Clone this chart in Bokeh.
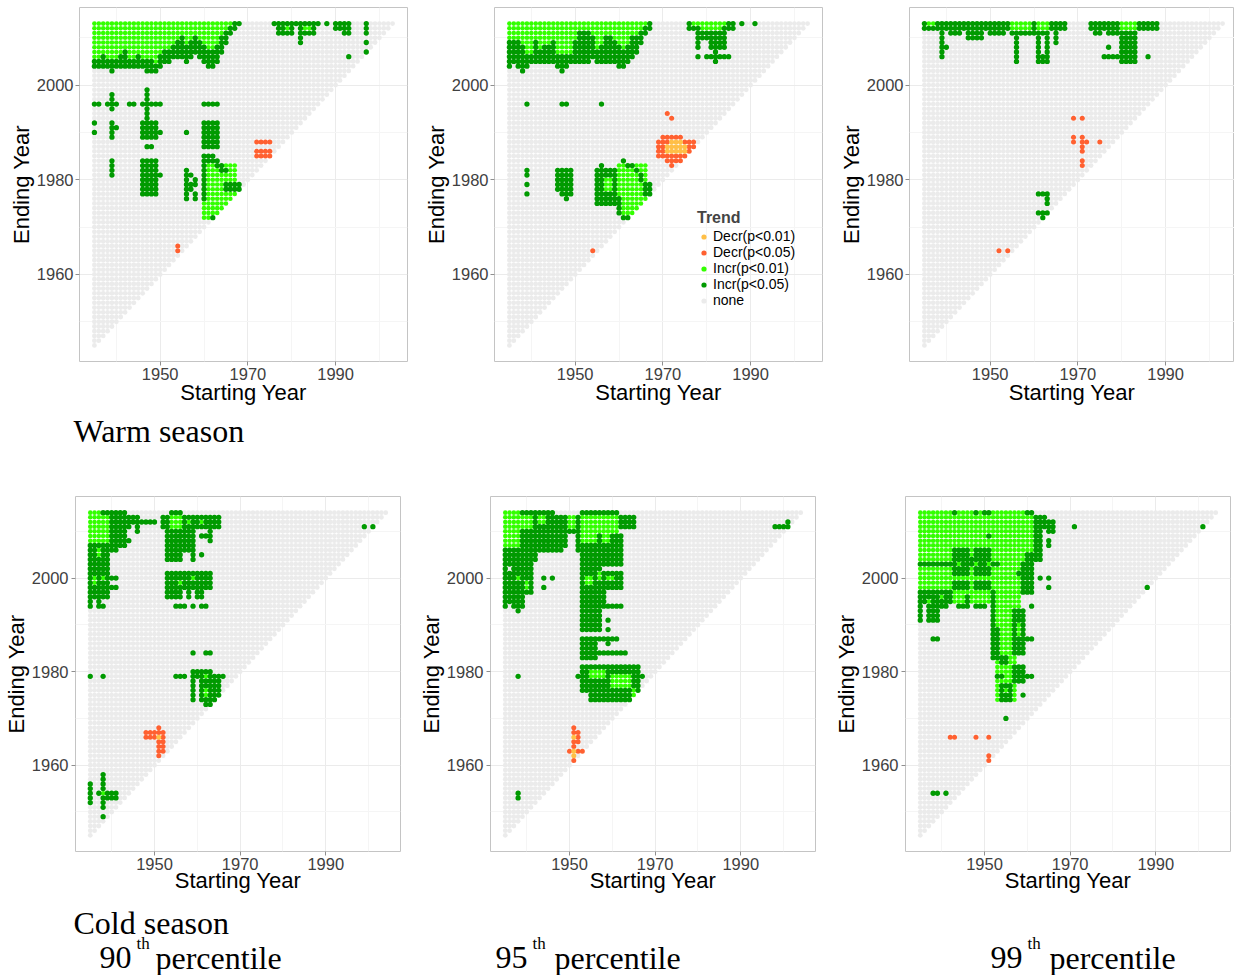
from bokeh.plotting import figure
from bokeh.models import ColumnDataSource, FixedTicker, Label, Legend, LegendItem, Range1d, Grid
from bokeh.layouts import column, row
from bokeh.embed import file_html
from bokeh.resources import INLINE

# ---------------------------------------------------------------- data
TREND_LABELS = ["Decr(p<0.01)", "Decr(p<0.05)", "Incr(p<0.01)", "Incr(p<0.05)", "none"]
TREND_CODES = ["D1", "D5", "I1", "I5", "N"]
TREND_COLORS = ["#FFBF47", "#FF6030", "#33FF00", "#009A00", "#EBEBEB"]

MIN_SPAN = 10                     # shortest trend window (years)
WARM_FIRST_START, WARM_LAST_START, WARM_LAST_END = 1935, 2003, 2013
COLD_FIRST_START, COLD_LAST_START, COLD_LAST_END = 1935, 2004, 2014

X_TICKS = [1950, 1970, 1990]
X_MINOR = [1940, 1960, 1980, 2000]
Y_TICKS = [1960, 1980, 2000]
Y_MINOR = [1950, 1970, 1990, 2010]

SEASON_TITLES = ["Warm season", "Cold season"]
PERCENTILES = ["90", "95", "99"]

# column profiles of the top significant block: (start, lowest Incr(p<0.05) end, lowest Incr(p<0.01) end)
W90_PROFILE = [
    (1935, 2004, 2006), (1936, 2004, 2006), (1937, 2004, 2007), (1938, 2004, 2006), (1939, 2003, 2006),
    (1940, 2004, 2006), (1941, 2004, 2007), (1942, 2004, 2008), (1943, 2004, 2006), (1944, 2004, 2006),
    (1945, 2004, 2007), (1946, 2004, 2006), (1947, 2003, 2006), (1948, 2003, 2006), (1949, 2003, 2005),
    (1950, 2004, 2007), (1951, 2005, 2008), (1952, 2005, 2008), (1953, 2006, 2009), (1954, 2006, 2010),
    (1955, 2006, 2011), (1956, 2005, 2009), (1957, 2006, 2010), (1958, 2007, 2011), (1959, 2006, 2010),
    (1960, 2005, 2009), (1961, 2004, 2008), (1962, 2004, 2008), (1963, 2005, 2009), (1964, 2007, 2011),
    (1965, 2009, 2012), (1966, 2011, 2013), (1967, 2012, None), (1968, 2013, None),
]
# blocks: (trend, first start, last start, first end, last end)
W90_RECTS = [
    ("I5", 1976, 1986, 2013, 2013), ("I5", 1977, 1980, 2011, 2012), ("I5", 1982, 1985, 2011, 2012),
    ("I5", 1982, 1982, 2009, 2010), ("I1", 1979, 1979, 2012, 2012), ("I1", 1983, 1984, 2012, 2012),
    ("I5", 1988, 1988, 2013, 2013), ("I5", 1990, 1993, 2012, 2013), ("I5", 1992, 1993, 2011, 2011),
    ("I5", 1993, 1993, 2006, 2006), ("I5", 1997, 1997, 2011, 2013), ("I5", 1997, 1997, 2009, 2009),
    ("I5", 1997, 1997, 2007, 2007),
    ("I5", 1935, 1936, 1996, 1996), ("I5", 1938, 1940, 1996, 1996), ("I5", 1939, 1939, 1995, 1998),
    ("I5", 1943, 1944, 1996, 1996), ("I5", 1946, 1950, 1996, 1996), ("I5", 1947, 1947, 1993, 1999),
    ("I5", 1946, 1949, 1989, 1992), ("I5", 1950, 1950, 1990, 1990), ("I5", 1947, 1948, 1987, 1987),
    ("I5", 1946, 1949, 1977, 1984), ("I5", 1950, 1950, 1981, 1981),
    ("I5", 1939, 1939, 1989, 1992), ("I5", 1940, 1940, 1991, 1991),
    ("I5", 1935, 1935, 1992, 1992), ("I5", 1935, 1935, 1990, 1990), ("I5", 1939, 1939, 1981, 1984),
    ("I5", 1956, 1956, 1990, 1990),
    ("I5", 1960, 1963, 1996, 1996), ("I5", 1960, 1963, 1988, 1992), ("I5", 1960, 1963, 1987, 1987),
    ("I1", 1960, 1967, 1972, 1983), ("I5", 1960, 1960, 1976, 1985), ("I5", 1961, 1962, 1985, 1985),
    ("I5", 1961, 1963, 1984, 1984), ("I5", 1963, 1964, 1983, 1983), ("I5", 1964, 1965, 1982, 1982),
    ("I5", 1965, 1968, 1978, 1979), ("I5", 1962, 1962, 1972, 1972),
    ("I5", 1956, 1956, 1976, 1982), ("I5", 1957, 1957, 1981, 1981), ("I5", 1957, 1957, 1978, 1979),
    ("I5", 1958, 1958, 1976, 1977), ("I5", 1958, 1958, 1979, 1980),
    ("D5", 1972, 1975, 1988, 1988), ("D5", 1972, 1975, 1985, 1986), ("D5", 1954, 1954, 1965, 1966),
]

W95_PROFILE = [
    (1935, 2004, 2010), (1936, 2005, 2010), (1937, 2004, 2010), (1938, 2003, 2009), (1939, 2004, 2007),
    (1940, 2005, 2007), (1941, 2005, 2010), (1942, 2005, 2008), (1943, 2005, 2009), (1944, 2005, 2009),
    (1945, 2005, 2010), (1946, 2004, 2007), (1947, 2003, 2007), (1948, 2004, 2007), (1949, 2005, 2007),
    (1950, 2005, 2010), (1951, 2005, 2012), (1952, 2005, 2012), (1953, 2005, 2012), (1954, 2006, 2011),
    (1955, 2005, 2008), (1956, 2005, 2009), (1957, 2005, 2011), (1958, 2005, 2011), (1959, 2005, 2010),
    (1960, 2004, 2009), (1961, 2004, 2008), (1962, 2005, 2009), (1963, 2006, 2011), (1964, 2007, 2011),
    (1965, 2009, 2012), (1966, 2011, 2013), (1967, 2012, None),
]
W95_RECTS = [
    ("I5", 1976, 1986, 2012, 2013), ("I1", 1977, 1984, 2013, 2013), ("I1", 1979, 1983, 2012, 2012),
    ("I5", 1978, 1978, 2008, 2011), ("I5", 1979, 1980, 2010, 2011), ("I5", 1981, 1984, 2008, 2011),
    ("I5", 1982, 1982, 2005, 2007), ("I5", 1978, 1978, 2006, 2006), ("I5", 1980, 1985, 2006, 2006),
    ("I5", 1988, 1988, 2013, 2013), ("I5", 1991, 1991, 2013, 2013),
    ("I5", 1939, 1939, 1996, 1996), ("I5", 1947, 1948, 1996, 1996), ("I5", 1956, 1956, 1996, 1996),
    ("I5", 1939, 1939, 1981, 1982), ("I5", 1939, 1939, 1979, 1979), ("I5", 1939, 1939, 1977, 1977),
    ("I5", 1946, 1949, 1981, 1982), ("I5", 1946, 1949, 1978, 1980), ("I5", 1947, 1949, 1977, 1977),
    ("I5", 1948, 1948, 1976, 1976),
    ("I5", 1955, 1959, 1975, 1982), ("I5", 1956, 1956, 1983, 1983), ("I1", 1957, 1958, 1978, 1980),
    ("I1", 1960, 1966, 1973, 1983), ("I5", 1961, 1961, 1984, 1984), ("I5", 1962, 1963, 1983, 1983),
    ("I5", 1964, 1964, 1982, 1982), ("I5", 1965, 1965, 1980, 1981), ("I5", 1966, 1967, 1977, 1979),
    ("I5", 1960, 1960, 1973, 1976), ("I5", 1961, 1962, 1972, 1972),
    ("D5", 1969, 1977, 1985, 1988), ("D5", 1970, 1974, 1989, 1989), ("D5", 1971, 1974, 1984, 1984),
    ("D5", 1972, 1972, 1983, 1983), ("D5", 1971, 1971, 1994, 1994), ("D5", 1972, 1972, 1993, 1993),
    ("D1", 1971, 1975, 1986, 1987), ("D1", 1972, 1974, 1988, 1988), ("D5", 1954, 1954, 1965, 1965),
]

W99_PROFILE = []
W99_RECTS = [
    ("I5", 1935, 1938, 2012, 2013), ("I1", 1936, 1937, 2013, 2013),
    ("I5", 1939, 1939, 2006, 2013), ("I5", 1940, 1940, 2008, 2008),
    ("I5", 1940, 1954, 2012, 2013), ("I5", 1941, 1943, 2011, 2011), ("I5", 1945, 1948, 2010, 2011),
    ("I5", 1950, 1953, 2011, 2011),
    ("I5", 1955, 1960, 2011, 2013), ("I1", 1955, 1959, 2012, 2013), ("I5", 1956, 1956, 2005, 2010),
    ("I5", 1961, 1963, 2005, 2013), ("N", 1962, 1962, 2007, 2010), ("I1", 1961, 1964, 2012, 2013),
    ("I5", 1964, 1967, 2012, 2013), ("I5", 1965, 1965, 2009, 2011),
    ("I5", 1973, 1988, 2012, 2013), ("I1", 1980, 1983, 2012, 2013), ("I5", 1974, 1975, 2011, 2011),
    ("I5", 1977, 1979, 2011, 2011), ("I5", 1977, 1977, 2008, 2008), ("I5", 1976, 1979, 2006, 2006),
    ("I5", 1980, 1983, 2005, 2011), ("I5", 1986, 1986, 2006, 2006),
    ("D5", 1969, 1969, 1993, 1993), ("D5", 1971, 1971, 1993, 1993), ("D5", 1969, 1969, 1988, 1989),
    ("D5", 1971, 1971, 1986, 1989), ("D5", 1971, 1971, 1983, 1984), ("D5", 1972, 1972, 1988, 1988),
    ("D5", 1975, 1975, 1988, 1988), ("D5", 1952, 1952, 1965, 1965), ("D5", 1954, 1954, 1965, 1965),
    ("I5", 1961, 1963, 1977, 1977), ("I5", 1963, 1963, 1975, 1976), ("I5", 1961, 1963, 1973, 1973),
    ("I5", 1962, 1962, 1972, 1972),
]

C90_PROFILE = []
C90_RECTS = [
    ("I1", 1935, 1939, 2008, 2014), ("I5", 1940, 1941, 2006, 2014), ("I5", 1938, 1941, 2014, 2014),
    ("I5", 1935, 1937, 1994, 2007), ("I5", 1938, 1939, 1996, 2007), ("I5", 1940, 1941, 1998, 1998),
    ("I5", 1940, 1941, 2000, 2000), ("I1", 1936, 1936, 1999, 2000), ("I1", 1938, 1938, 2000, 2000),
    ("I1", 1937, 1937, 2005, 2006), ("N", 1936, 1936, 1994, 1995), ("I5", 1937, 1938, 1994, 1994),
    ("I5", 1942, 1946, 2013, 2013), ("I5", 1942, 1950, 2012, 2012), ("I5", 1942, 1943, 2007, 2014),
    ("I5", 1943, 1944, 2011, 2011), ("I5", 1946, 1946, 2010, 2011), ("I5", 1944, 1944, 2008, 2008),
    ("I5", 1954, 1956, 2014, 2014), ("I5", 1952, 1965, 2011, 2013), ("I1", 1954, 1956, 2010, 2013),
    ("I1", 1958, 1958, 2012, 2012), ("I1", 1961, 1961, 2012, 2012),
    ("I5", 1953, 1956, 2004, 2010), ("I5", 1957, 1958, 2006, 2010), ("I5", 1959, 1959, 2004, 2010),
    ("I5", 1961, 1962, 2009, 2009), ("I5", 1961, 1961, 2005, 2005), ("I5", 1963, 1963, 2008, 2010),
    ("I5", 1953, 1963, 1998, 2001), ("I5", 1953, 1956, 1996, 1997), ("I5", 1958, 1958, 1996, 1997),
    ("I5", 1960, 1961, 1996, 1997), ("I1", 1956, 1956, 1999, 1999), ("I1", 1959, 1959, 2000, 2000),
    ("I5", 1955, 1957, 1994, 1994), ("I5", 1959, 1959, 1994, 1994), ("I5", 1961, 1962, 1994, 1994),
    ("I5", 1959, 1959, 1984, 1984), ("I5", 1962, 1963, 1984, 1984),
    ("I5", 1955, 1957, 1979, 1979), ("I5", 1959, 1966, 1979, 1979), ("I5", 1959, 1959, 1974, 1980),
    ("I5", 1960, 1963, 1980, 1980), ("I5", 1961, 1965, 1974, 1978), ("I1", 1962, 1962, 1975, 1976),
    ("I1", 1962, 1962, 1979, 1979), ("I5", 1962, 1963, 1973, 1973),
    ("I5", 1935, 1935, 1979, 1979), ("I5", 1938, 1938, 1979, 1979),
    ("D5", 1951, 1951, 1968, 1968), ("D5", 1948, 1952, 1966, 1967), ("D5", 1951, 1952, 1963, 1965),
    ("D5", 1951, 1951, 1962, 1962), ("D1", 1951, 1951, 1966, 1966),
    ("I5", 1935, 1935, 1952, 1956), ("I5", 1938, 1938, 1955, 1958), ("I5", 1938, 1938, 1951, 1953),
    ("I5", 1938, 1938, 1949, 1949), ("I5", 1937, 1941, 1954, 1954), ("I5", 1938, 1941, 1953, 1953),
    ("I1", 1938, 1938, 1954, 1954),
    ("I5", 1999, 1999, 2011, 2011), ("I5", 2001, 2001, 2011, 2011),
]

C95_PROFILE = []
C95_RECTS = [
    ("I1", 1935, 1941, 2011, 2014), ("I1", 1935, 1938, 2007, 2010), ("I5", 1939, 1946, 2014, 2014),
    ("I5", 1942, 1951, 2010, 2013), ("I1", 1950, 1951, 2011, 2013), ("I1", 1943, 1944, 2012, 2013),
    ("I5", 1946, 1946, 2007, 2013), ("I5", 1949, 1949, 2007, 2010),
    ("I5", 1943, 1948, 2006, 2009), ("I5", 1939, 1942, 2004, 2010),
    ("I5", 1935, 1939, 1995, 2006), ("I5", 1940, 1941, 1997, 2003),
    ("I1", 1938, 1938, 2000, 2000), ("I1", 1940, 1940, 1998, 1999), ("N", 1936, 1936, 2002, 2002),
    ("I5", 1935, 1935, 1994, 1994), ("I5", 1937, 1939, 1994, 1994), ("I5", 1938, 1938, 1993, 1993),
    ("I5", 1944, 1944, 2000, 2000), ("I5", 1946, 1946, 2000, 2000), ("I5", 1944, 1944, 1998, 1998),
    ("I5", 1953, 1961, 2014, 2014), ("I1", 1953, 1961, 2008, 2013), ("I5", 1952, 1952, 2006, 2013),
    ("I5", 1962, 1965, 2011, 2013), ("I5", 1957, 1962, 2003, 2009), ("I1", 1958, 1959, 2008, 2010),
    ("I5", 1953, 1957, 1989, 2007), ("I1", 1954, 1955, 1999, 2000), ("I1", 1957, 1957, 2000, 2001),
    ("I5", 1958, 1962, 1999, 2001), ("I1", 1959, 1960, 2000, 2000), ("I5", 1958, 1962, 1998, 1998),
    ("I5", 1958, 1962, 1994, 1994), ("I5", 1958, 1958, 1995, 1997),
    ("I5", 1959, 1959, 1991, 1991), ("I5", 1959, 1959, 1989, 1989),
    ("I5", 1953, 1961, 1987, 1987), ("I5", 1953, 1956, 1983, 1986), ("I5", 1959, 1959, 1986, 1986),
    ("I5", 1953, 1963, 1984, 1984),
    ("I5", 1953, 1966, 1974, 1981), ("I5", 1952, 1952, 1979, 1979), ("I5", 1967, 1967, 1979, 1979),
    ("I1", 1955, 1958, 1979, 1980), ("I1", 1960, 1964, 1977, 1979), ("I1", 1965, 1965, 1975, 1976),
    ("N", 1953, 1954, 1974, 1975),
    ("I5", 1938, 1938, 1979, 1979), ("I5", 1938, 1938, 1953, 1954),
    ("D5", 1951, 1951, 1961, 1968), ("D5", 1952, 1952, 1965, 1967), ("D5", 1950, 1953, 1963, 1963),
    ("D1", 1951, 1951, 1966, 1966), ("D1", 1951, 1951, 1962, 1963),
    ("I5", 1998, 2001, 2011, 2011), ("I5", 2001, 2001, 2012, 2012),
]

C99_PROFILE = []
C99_RECTS = [
    ("I1", 1935, 1961, 1997, 2014), ("I1", 1943, 1951, 1995, 1996),
    ("I1", 1952, 1958, 1984, 1996), ("I1", 1953, 1957, 1974, 1983),
    ("I5", 1943, 1943, 2014, 2014), ("I5", 1948, 1948, 2014, 2014), ("I5", 1950, 1951, 2014, 2014),
    ("I5", 1960, 1961, 2014, 2014), ("I5", 1951, 1951, 2009, 2009),
    ("I5", 1962, 1964, 2011, 2013), ("I5", 1965, 1966, 2010, 2012), ("I5", 1962, 1963, 2004, 2010),
    ("I5", 1960, 1961, 2004, 2005), ("I5", 1965, 1965, 2007, 2008),
    ("I5", 1935, 1953, 2003, 2003), ("I5", 1943, 1946, 2001, 2006), ("I5", 1948, 1951, 2001, 2006),
    ("I5", 1947, 1947, 2003, 2004), ("I1", 1944, 1944, 2003, 2003), ("I1", 1948, 1948, 2003, 2003),
    ("I1", 1951, 1951, 2003, 2003),
    ("I5", 1943, 1946, 1998, 1999), ("I5", 1948, 1951, 1998, 1999), ("I5", 1946, 1946, 1995, 1996),
    ("I5", 1959, 1961, 1997, 2003), ("I5", 1958, 1958, 2001, 2001),
    ("I5", 1963, 1963, 2000, 2000), ("I5", 1965, 1965, 2000, 2000), ("I5", 1965, 1965, 1998, 1998),
    ("I5", 1961, 1961, 1994, 1994),
    ("I5", 1935, 1942, 1995, 1997), ("I5", 1935, 1935, 1991, 1994), ("I5", 1937, 1939, 1991, 1994),
    ("I5", 1940, 1941, 1994, 1994), ("I1", 1937, 1937, 1995, 1995), ("I1", 1940, 1940, 1996, 1996),
    ("I5", 1938, 1939, 1987, 1987), ("I5", 1944, 1946, 1994, 1994), ("I5", 1948, 1950, 1994, 1994),
    ("I5", 1952, 1952, 1989, 1997), ("I5", 1952, 1953, 1983, 1989), ("I5", 1957, 1959, 1984, 1993),
    ("I5", 1960, 1961, 1987, 1987), ("I1", 1958, 1958, 1988, 1990),
    ("I5", 1954, 1955, 1982, 1983), ("I5", 1957, 1959, 1978, 1981), ("I5", 1953, 1961, 1979, 1979),
    ("I1", 1955, 1956, 1979, 1980), ("I5", 1954, 1956, 1974, 1977), ("I1", 1955, 1955, 1976, 1976),
    ("I5", 1959, 1959, 1975, 1975), ("I5", 1955, 1955, 1970, 1970),
    ("D5", 1942, 1943, 1966, 1966), ("D5", 1948, 1948, 1966, 1966), ("D5", 1951, 1951, 1966, 1966),
    ("D5", 1951, 1951, 1961, 1962),
    ("I5", 1938, 1939, 1954, 1954), ("I5", 1941, 1941, 1954, 1954), ("I5", 1988, 1988, 1998, 1998),
    ("I5", 1971, 1971, 2011, 2011), ("I5", 2001, 2001, 2011, 2011),
]

# ---------------------------------------------------------------- helpers
SANS = "Liberation Sans"
SERIF = "Liberation Serif"
DRAW_ORDER = ["N", "I1", "I5", "D5", "D1"]
DOT_SIZE = {"N": 4.8, "I1": 4.6, "I5": 5.3, "D5": 5.0, "D1": 5.0}
COLOR = dict(zip(TREND_CODES, TREND_COLORS))
LABEL = dict(zip(TREND_CODES, TREND_LABELS))


def build_cells(first_start, last_start, last_end, profile, rects):
    cells = {}
    for s in range(first_start, last_start + 1):
        for e in range(s + MIN_SPAN, last_end + 1):
            cells[(s, e)] = "N"
    for s, dark_lo, light_lo in profile:
        for e in range(dark_lo, last_end + 1):
            if (s, e) in cells:
                cells[(s, e)] = "I5"
        if light_lo is not None:
            for e in range(light_lo, last_end + 1):
                if (s, e) in cells:
                    cells[(s, e)] = "I1"
    for code, s0, s1, e0, e1 in rects:
        for s in range(s0, s1 + 1):
            for e in range(e0, e1 + 1):
                if (s, e) in cells:
                    cells[(s, e)] = code
    out = {c: {"start": [], "end": []} for c in TREND_CODES}
    for (s, e), c in cells.items():
        out[c]["start"].append(s)
        out[c]["end"].append(e)
    return out


def make_panel(cells, fig_w, fig_h, b_left, b_right, b_top, b_bottom,
               x_start, x_end, y_start, y_end, tick_std, title_std):
    p = figure(width=fig_w, height=fig_h, title=None,
               x_range=Range1d(x_start, x_end), y_range=Range1d(y_start, y_end),
               output_backend="svg", toolbar_location=None,
               min_border_left=b_left, min_border_right=b_right,
               min_border_top=b_top, min_border_bottom=b_bottom,
               x_axis_label="Starting Year", y_axis_label="Ending Year")
    p.background_fill_color = "white"
    p.border_fill_color = "white"
    p.outline_line_color = "#C4C4C4"
    p.outline_line_width = 1
    p.xaxis.ticker = FixedTicker(ticks=X_TICKS, minor_ticks=X_MINOR)
    p.yaxis.ticker = FixedTicker(ticks=Y_TICKS, minor_ticks=Y_MINOR)
    for g in (p.xgrid, p.ygrid):
        g.grid_line_color = "#EBEBEB"
        g.grid_line_width = 1
        g.minor_grid_line_color = "#F5F5F5"
    for ax in p.axis:
        ax.axis_line_color = None
        ax.major_tick_line_color = "#8F8F8F"
        ax.major_tick_in = 0
        ax.major_tick_out = 4
        ax.minor_tick_line_color = None
        ax.major_label_text_font = SANS
        ax.major_label_text_font_size = "16.5px"
        ax.major_label_text_color = "#404040"
        ax.axis_label_text_font = SANS
        ax.axis_label_text_font_size = "22px"
        ax.axis_label_text_font_style = "normal"
        ax.axis_label_text_color = "black"
    p.xaxis.major_label_standoff = tick_std[0]
    p.yaxis.major_label_standoff = tick_std[1]
    p.xaxis.axis_label_standoff = title_std[0]
    p.yaxis.axis_label_standoff = title_std[1]

    rends = {}
    for code in DRAW_ORDER:
        src = ColumnDataSource(cells[code])
        rends[code] = p.scatter(x="start", y="end", source=src, marker="circle",
                                size=DOT_SIZE[code], fill_color=COLOR[code], line_color=None)
    return p, rends


def caption_figure(width, height, items):
    c = figure(width=width, height=height, title=None,
               x_range=Range1d(0, width), y_range=Range1d(height, 0),
               output_backend="svg", toolbar_location=None,
               x_axis_location=None, y_axis_location=None, min_border=0)
    c.outline_line_color = None
    c.background_fill_color = "white"
    c.border_fill_color = "white"
    for g in c.select(type=Grid):
        g.visible = False
    for text, x, y, size in items:
        c.add_layout(Label(x=x, y=y, text=text, text_font=SERIF, text_font_size=size,
                           text_color="black", text_align="left", text_baseline="alphabetic"))
    return c


# ---------------------------------------------------------------- geometry (px)
FIG_W_TOP = [415, 415, 404]
FIG_W_BOT = [415, 415, 404]
TOP_LEFT, BOT_LEFT = 79, 73
TOP_FRAME_W, BOT_FRAME_W = 328, 327
TOP_FRAME_H, BOT_FRAME_H = 354, 355
TOP_B_TOP, TOP_B_BOT = 7, 47
BOT_B_TOP, BOT_B_BOT = 0, 46
CAP1_H, CAP2_H = 88, 78
TOTAL_W = sum(FIG_W_TOP)

WARM_X = (1931.6, 2006.4)
WARM_Y = (1941.6, 2016.4)
COLD_X = (1931.55, 2007.45)
COLD_Y = (1941.55, 2017.45)

warm_specs = [(W90_PROFILE, W90_RECTS), (W95_PROFILE, W95_RECTS), (W99_PROFILE, W99_RECTS)]
cold_specs = [(C90_PROFILE, C90_RECTS), (C95_PROFILE, C95_RECTS), (C99_PROFILE, C99_RECTS)]

top_figs, bot_figs = [], []
legend_target = None
for i, (prof, rects) in enumerate(warm_specs):
    cells = build_cells(WARM_FIRST_START, WARM_LAST_START, WARM_LAST_END, prof, rects)
    fw = FIG_W_TOP[i]
    frame_w = min(TOP_FRAME_W, fw - TOP_LEFT)
    b_right = fw - TOP_LEFT - frame_w
    ppy = TOP_FRAME_W / (WARM_X[1] - WARM_X[0])
    x_end = WARM_X[0] + frame_w / ppy
    p, rends = make_panel(cells, fw, TOP_B_TOP + TOP_FRAME_H + TOP_B_BOT, TOP_LEFT, b_right,
                          TOP_B_TOP, TOP_B_BOT, WARM_X[0], x_end, WARM_Y[0], WARM_Y[1], (2, 2), (-3, 0))
    top_figs.append(p)
    if i == 1:
        legend_target = (p, rends)

for i, (prof, rects) in enumerate(cold_specs):
    cells = build_cells(COLD_FIRST_START, COLD_LAST_START, COLD_LAST_END, prof, rects)
    fw = FIG_W_BOT[i]
    frame_w = min(BOT_FRAME_W, fw - BOT_LEFT)
    b_right = fw - BOT_LEFT - frame_w
    ppy = BOT_FRAME_W / (COLD_X[1] - COLD_X[0])
    x_end = COLD_X[0] + frame_w / ppy
    p, rends = make_panel(cells, fw, BOT_B_TOP + BOT_FRAME_H + BOT_B_BOT, BOT_LEFT, b_right,
                          BOT_B_TOP, BOT_B_BOT, COLD_X[0], x_end, COLD_Y[0], COLD_Y[1], (2, 3), (-5, 0))
    bot_figs.append(p)

# legend in the middle warm panel
lp, lr = legend_target
key_bg = lp.quad(left=[], right=[], top=[], bottom=[], fill_color="#F2F2F2", line_color=None)
items = [LegendItem(label=LABEL[c], renderers=[key_bg, lr[c]]) for c in TREND_CODES]
legend = Legend(items=items, location=(203, 53), title="Trend",
                title_text_font=SANS, title_text_font_size="16px", title_text_font_style="bold",
                title_standoff=1, label_text_font=SANS, label_text_font_size="14px",
                label_text_color="black", label_standoff=3, glyph_width=13, glyph_height=13,
                label_height=12, spacing=0, padding=0, margin=0,
                border_line_color=None, background_fill_alpha=0)
lp.add_layout(legend)

# captions (baseline positions measured from each caption strip's top)
cap1 = caption_figure(TOTAL_W, CAP1_H, [(SEASON_TITLES[0], 73, 22, "32px")])
cap2_items = [(SEASON_TITLES[1], 73, 25, "32px")]
PCT_X = [(99, 136, 155), (495, 532, 554), (990, 1027, 1049)]
for pct, (x0, x1, x2) in zip(PERCENTILES, PCT_X):
    cap2_items.append((pct, x0, 60, "32px"))
    cap2_items.append(("th", x1, 46, "17px"))
    cap2_items.append(("percentile", x2, 60, "32px"))
cap2 = caption_figure(TOTAL_W, CAP2_H, cap2_items)

layout = column(row(*top_figs), cap1, row(*bot_figs), cap2)
open("out.html", "w").write(file_html(layout, INLINE))
